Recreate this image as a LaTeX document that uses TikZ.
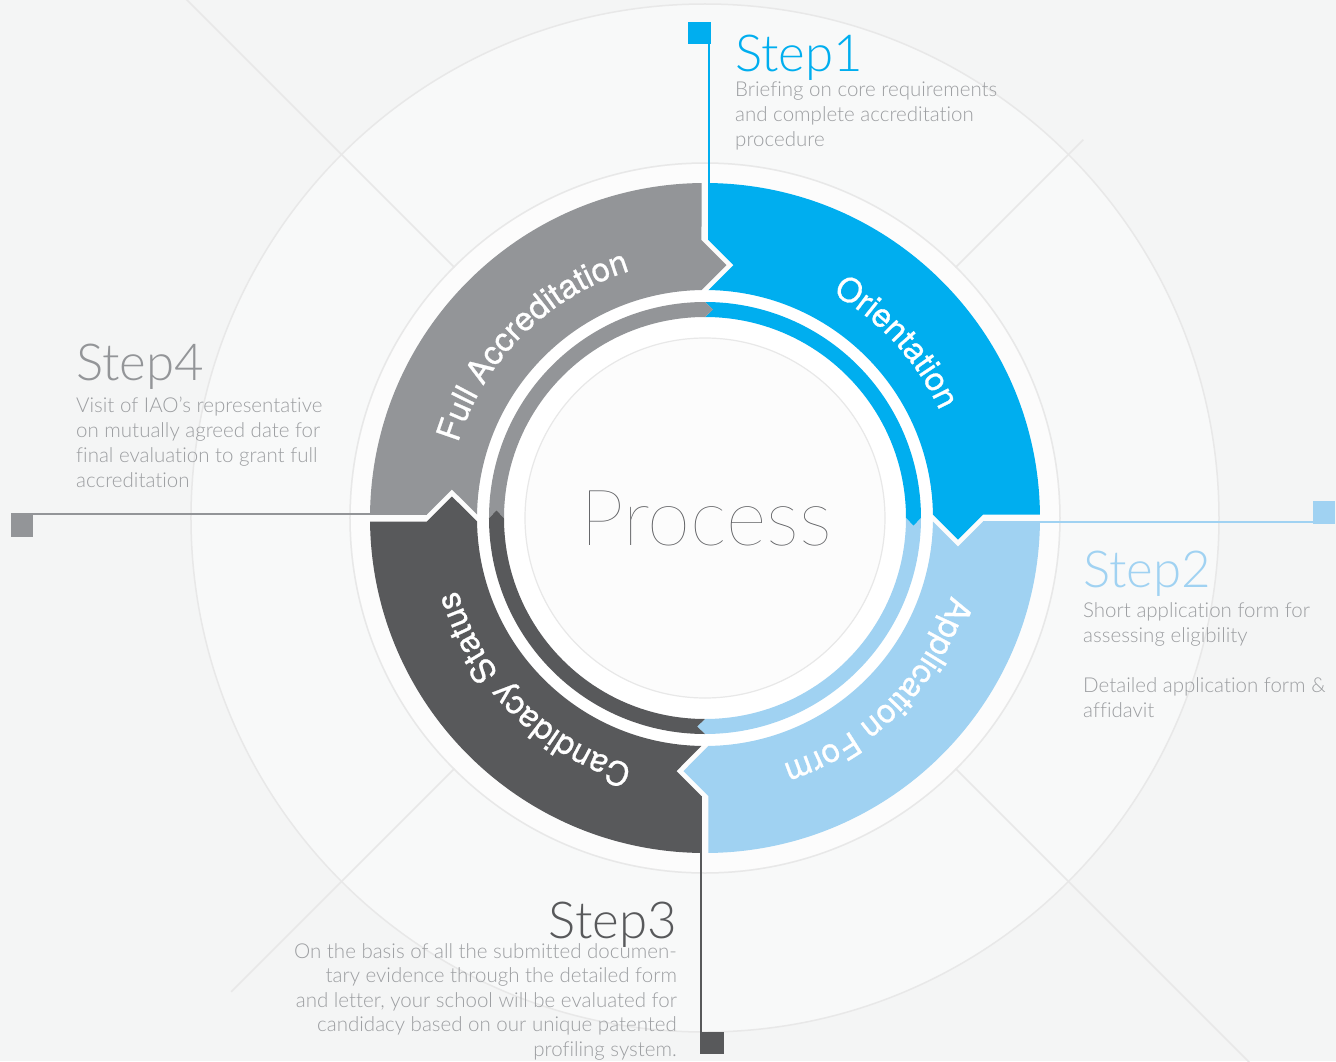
\documentclass[tikz,border=0pt]{standalone}
\usepackage{fontspec}
\setmainfont{TeX Gyre Heros}
\newfontfamily\hairfont{Lato Hairline}
\newfontfamily\lightfont{Lato Light}[Ligatures=NoCommon]
\newfontfamily\labfont{TeX Gyre Heros}[FakeBold=0.8]
\usetikzlibrary{decorations.text}
\definecolor{cBlue}{HTML}{00AEEF}
\definecolor{cLight}{HTML}{A0D2F2}
\definecolor{cDark}{HTML}{58595B}
\definecolor{cGray}{HTML}{939598}
\definecolor{cBody}{HTML}{9C9EA1}
\definecolor{cBg}{HTML}{F4F5F5}
\definecolor{cMid}{HTML}{F8F9F9}
\definecolor{cIn}{HTML}{FCFCFC}
\definecolor{cFaint}{HTML}{E8E8E8}
\definecolor{cProc}{HTML}{5E5F62}
\newcommand{\outerseg}[2]{%
  \begin{scope}[rotate=#1]
    \fill[#2] ({90-asin(3.5/335)}:335)
      arc[start angle={90-asin(3.5/335)}, end angle={asin(3.5/335)}, radius=335]
      -- (278,3.5) -- (253,-21.5) -- ({asin(3.5/228)}:228)
      arc[start angle={asin(3.5/228)}, end angle={90-asin(3.5/228)}, radius=228]
      -- (28.5,253) -- (3.5,278) -- cycle;
  \end{scope}}
\newcommand{\innerseg}[2]{%
  \begin{scope}[rotate=#1]
    \fill[#2] (90:216) arc[start angle=90, end angle=0, radius=216]
      -- (208.5,-8) -- (201,0) arc[start angle=0, end angle=90, radius=201]
      -- (8,208.5) -- cycle;
  \end{scope}}
\newcommand{\ringfont}{\labfont\fontsize{33}{33}\selectfont\color{white}}
\newcommand{\ringlabel}[2]{%
  \path[decorate, decoration={text along path, text align=center,
    text={|\ringfont|#2}}]
    ({#1}:258) arc[start angle={#1}, end angle={#1-90}, radius=258];}
\tikzset{
  faint/.style={draw=cFaint, line width=1.5pt},
  marker/.style={minimum size=22.5pt, inner sep=0pt, outer sep=0pt},
  conn/.style={line width=2pt},
  steptitle/.style={font=\lightfont\fontsize{51}{51}\selectfont, inner sep=0pt},
  stepbody/.style={font=\lightfont\fontsize{20.5}{25}\selectfont, text=cBody, inner sep=0pt},
}
\begin{document}
\begin{tikzpicture}[x=1pt, y=1pt]
  \useasboundingbox (-705,-543) rectangle (631,518);
  \clip (-705,-543) rectangle (631,518);
  % background
  \fill[cBg] (-705,-543) rectangle (631,518);
  \filldraw[fill=cMid, faint] (0,0) circle[radius=514];
  \draw[faint] (135:337) -- (135:780);
  \draw[faint] (45:337) -- (45:535);
  \draw[faint] (-135:337) -- (-135:670);
  \draw[faint] (-45:337) -- (-45:800);
  \fill[cIn] (0,0) circle[radius=354];
  \draw[faint] (0,0) circle[radius=355];
  \fill[white] (0,0) circle[radius=228];
  % outer ring
  \outerseg{0}{cBlue}
  \outerseg{-90}{cLight}
  \outerseg{-180}{cDark}
  \outerseg{90}{cGray}
  % inner ring
  \innerseg{0}{cBlue}
  \innerseg{-90}{cLight}
  \innerseg{-180}{cDark}
  \innerseg{90}{cGray}
  % centre
  \filldraw[fill=cIn, draw=cFaint, line width=1.2pt] (0,0) circle[radius=180];
  \node[font=\hairfont\fontsize{78}{78}\selectfont, text=cProc, anchor=base, inner sep=0pt] (proc) at (1,-27) {Process};
  % ring labels
  \ringlabel{87.5}{Orientation}
  \ringlabel{0}{Application Form}
  \ringlabel{-90}{Candidacy Status}
  \ringlabel{180}{Full Accreditation}
  % connectors and markers
  \node[marker, fill=cBlue] (m1) at (-5.5,485) {};
  \coordinate (e1) at (4.5,278);
  \draw[conn, cBlue] (e1 |- m1.south) -- (e1);
  \node[marker, fill=cLight] (m2) at (619,5.5) {};
  \coordinate (e2) at (278,-4);
  \draw[conn, cLight] (e2) -- (e2 -| m2.west);
  \node[marker, fill=cDark] (m3) at (8,-525) {};
  \coordinate (e3) at (-4,-278);
  \draw[conn, cDark] (e3) -- (e3 |- m3.south);
  \node[marker, fill=cGray] (m4) at (-683,-7.5) {};
  \coordinate (e4) at (-278,4);
  \draw[conn, cGray] (e4) -- (e4 -| m4.west);
  % step texts (base anchor = baseline of last line)
  \node[steptitle, text=cBlue, anchor=base west] (t1) at (30,446) {Step1};
  \node[stepbody, align=left, anchor=base west] (b1) at (30,371)
    {Briefing on core requirements\\and complete accreditation\\procedure};
  \node[steptitle, text=cLight, anchor=base west] (t2) at (378,-69) {Step2};
  \node[stepbody, align=left, anchor=base west] (b2) at (378,-199)
    {Short application form for\\assessing eligibility\\[25pt]Detailed application form \&\\affidavit};
  \node[steptitle, text=cDark, anchor=base east] (t3) at (-28,-420) {Step3};
  \node[stepbody, align=right, anchor=base east, font=\lightfont\fontsize{20.5}{24.5}\selectfont] (b3) at (-28,-538)
    {On the basis of all the submitted documen-\\tary evidence through the detailed form\\and letter, your school will be evaluated for\\candidacy based on our unique patented\\profiling system.};
  \node[steptitle, text=cGray, anchor=base west] (t4) at (-629,138) {Step4};
  \node[stepbody, align=left, anchor=base west] (b4) at (-629,31)
    {Visit of IAO’s representative\\on mutually agreed date for\\final evaluation to grant full\\accreditation};
\end{tikzpicture}
\end{document}
